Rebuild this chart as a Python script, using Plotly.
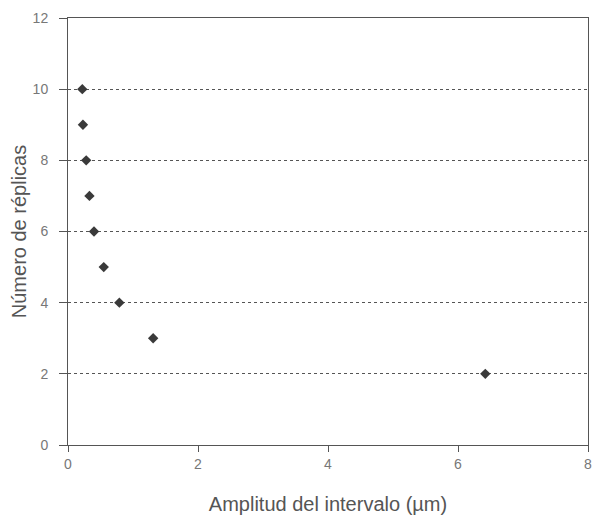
import plotly.graph_objects as go

# Data
amplitud = [6.42, 1.31, 0.79, 0.55, 0.40, 0.33, 0.28, 0.23, 0.22]
replicas = [2, 3, 4, 5, 6, 7, 8, 9, 10]
x_ticks = [0, 2, 4, 6, 8]
y_ticks = [0, 2, 4, 6, 8, 10, 12]

fig = go.Figure()
fig.add_trace(go.Scatter(
    x=amplitud, y=replicas, mode="markers",
    marker=dict(symbol="diamond", size=8, color="#3a3a3a"),
    showlegend=False,
))

font = "Liberation Sans, Arial, sans-serif"
fig.update_layout(
    width=594, height=528,
    margin=dict(l=68, r=6, t=18, b=83),
    paper_bgcolor="white", plot_bgcolor="white",
    font=dict(family=font, size=14, color="#555555"),
)
fig.update_xaxes(
    range=[0, 8], tickvals=x_ticks, ticks="outside", ticklen=6,
    tickcolor="#555555", showline=True, linecolor="#555555", linewidth=1,
    mirror=True, showgrid=False, zeroline=False, automargin=False,
    title=dict(text="Amplitud del intervalo (µm)", font=dict(size=20, color="#555555"), standoff=26),
    tickfont=dict(size=14, color="#777777"),
)
fig.update_yaxes(
    range=[0, 12], tickvals=y_ticks, ticks="outside", ticklen=8,
    tickcolor="#555555", showline=True, linecolor="#555555", linewidth=1,
    mirror=True, showgrid=True, gridcolor="#555555", griddash="dot", gridwidth=1,
    zeroline=False, automargin=False, ticklabelstandoff=8,
    title=dict(text="Número de réplicas", font=dict(size=20, color="#555555"), standoff=0),
    tickfont=dict(size=14, color="#777777"),
)
fig.write_html("out.html", config={"displayModeBar": False},
               post_script="document.body.style.margin='0';")
